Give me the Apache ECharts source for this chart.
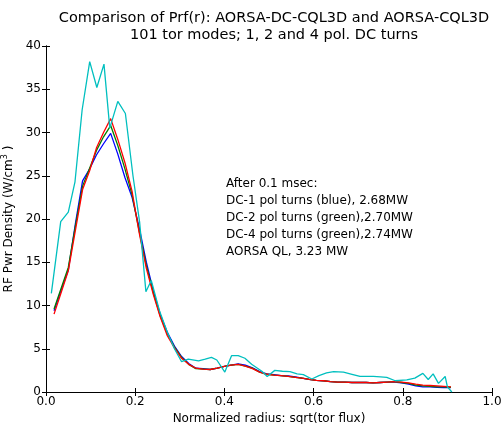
<!DOCTYPE html>
<html><head><meta charset="utf-8">
<script src="https://cdn.jsdelivr.net/npm/echarts@6/dist/echarts.min.js"></script>
<style>html,body{margin:0;padding:0;background:#fff}#c{width:502px;height:424px}</style>
</head><body><div id="c"></div>
<script>
var titleLines = ['Comparison of Prf(r): AORSA-DC-CQL3D and AORSA-CQL3D', '101 tor modes; 1, 2 and 4 pol. DC turns'];
var xLabel = 'Normalized radius: sqrt(tor flux)';
var xTicks = [0, 0.2, 0.4, 0.6, 0.8, 1.0];
var yTicks = [0, 5, 10, 15, 20, 25, 30, 35, 40];
var annotation = ['After 0.1 msec:', 'DC-1 pol turns (blue), 2.68MW', 'DC-2 pol turns (green),2.70MW', 'DC-4 pol turns (green),2.74MW', 'AORSA QL, 3.23 MW'];

var rhoDC = [0.018,0.034,0.050,0.066,0.082,0.098,0.113,0.129,0.145,0.161,0.177,0.193,0.209,0.225,0.241,0.256,0.272,0.288,0.304,0.320,0.336,0.352,0.368,0.384,0.400,0.415,0.431,0.447,0.463,0.479,0.495,0.511,0.527,0.543,0.559,0.574,0.590,0.606,0.622,0.638,0.654,0.670,0.686,0.702,0.718,0.733,0.749,0.765,0.781,0.797,0.813,0.829,0.845,0.861,0.877,0.892,0.908];
var prfDC1 = [9.4,11.8,14.1,19.5,24.4,25.8,27.4,28.7,29.9,27.5,24.8,22.5,19.0,15.0,11.6,9.0,6.9,5.3,4.1,3.3,2.75,2.7,2.6,2.75,2.95,3.1,3.25,3.1,2.8,2.35,2.1,2.0,1.9,1.85,1.75,1.6,1.45,1.35,1.3,1.2,1.15,1.15,1.1,1.1,1.1,1.05,1.1,1.15,1.15,1.05,0.9,0.7,0.6,0.6,0.55,0.5,0.5];
var prfDC2 = [9.6,12.0,14.4,19.2,23.8,25.9,27.9,29.5,30.8,28.5,25.8,22.8,18.6,14.6,11.4,8.8,6.7,5.2,4.0,3.2,2.7,2.65,2.6,2.75,2.95,3.1,3.2,3.0,2.75,2.3,2.05,1.95,1.9,1.8,1.7,1.6,1.45,1.35,1.3,1.2,1.15,1.15,1.1,1.1,1.1,1.05,1.1,1.15,1.2,1.1,1.0,0.8,0.7,0.65,0.6,0.6,0.55];
var prfDC4 = [9.0,11.5,14.0,18.7,23.4,25.6,28.2,30.0,31.6,29.2,26.5,23.2,18.4,14.3,11.2,8.7,6.5,5.1,3.9,3.2,2.75,2.65,2.6,2.75,2.95,3.1,3.2,3.0,2.7,2.3,2.05,1.95,1.9,1.8,1.7,1.6,1.45,1.35,1.3,1.2,1.15,1.15,1.1,1.1,1.1,1.05,1.1,1.15,1.2,1.15,1.05,0.9,0.8,0.75,0.7,0.65,0.6];
var rhoQL = [0.012,0.033,0.050,0.065,0.081,0.098,0.114,0.130,0.143,0.161,0.178,0.195,0.210,0.224,0.236,0.255,0.272,0.288,0.304,0.319,0.342,0.357,0.371,0.383,0.401,0.416,0.431,0.446,0.461,0.484,0.496,0.513,0.530,0.547,0.563,0.577,0.596,0.612,0.629,0.645,0.667,0.686,0.704,0.734,0.750,0.764,0.783,0.809,0.827,0.845,0.857,0.868,0.880,0.895,0.900,0.910];
var prfQL = [11.4,19.7,20.8,24.3,32.6,38.2,35.2,37.9,30.5,33.6,32.2,25.0,19.6,11.6,12.9,9.3,6.9,5.0,3.5,3.8,3.6,3.8,4.0,3.7,2.3,4.2,4.2,3.9,3.2,2.4,1.8,2.5,2.4,2.35,2.1,2.0,1.5,1.9,2.2,2.35,2.3,2.05,1.8,1.8,1.75,1.7,1.3,1.4,1.6,2.15,1.45,2.1,1.0,1.8,0.6,0.0];

function pairs(xs, ys){ return xs.map(function(x,i){ return [x, ys[i]]; }); }
function line(name, xs, ys, color, z){
  return {name:name, type:'line', data:pairs(xs,ys), symbol:'none', z:z,
    lineStyle:{color:color, width:1.3}, itemStyle:{color:color}, animation:false};
}
var FONT = 'DejaVu Sans';
var chart = echarts.init(document.getElementById('c'), null, {renderer:'canvas'});
var axisCommon = {
  axisLine:{lineStyle:{color:'#000', width:1}},
  axisTick:{inside:true, length:4, lineStyle:{color:'#000'}},
  splitLine:{show:false}
};
chart.setOption({
  backgroundColor:'#fff',
  animation:false,
  title:{text:titleLines.join('\n'), left:269, textAlign:'center', top:5,
    textStyle:{fontFamily:FONT, fontSize:14.5, fontWeight:'normal', color:'#000', lineHeight:17}},
  grid:{left:46, right:10, top:46, bottom:32, containLabel:false, outerBoundsMode:'none'},
  xAxis:[
    Object.assign({type:'value', min:0, max:1, interval:0.2, position:'bottom',
      name:xLabel, nameLocation:'middle', nameGap:19,
      nameTextStyle:{fontFamily:FONT, fontSize:12, color:'#000'},
      axisLabel:{fontFamily:FONT, fontSize:12, color:'#000', margin:4,
        formatter:function(v){ return xTicks.indexOf(+v.toFixed(1))>=0 ? v.toFixed(1) : ''; }}}, axisCommon),
    Object.assign({type:'value', min:0, max:1, interval:0.2, position:'top', axisLabel:{show:false}}, axisCommon)
  ],
  yAxis:[
    Object.assign({type:'value', min:0, max:40, interval:5, position:'left',
      name:'RF Pwr Density (W/cm{sup|3} )', nameLocation:'middle', nameGap:29,
      nameTextStyle:{fontFamily:FONT, fontSize:12, color:'#000',
        rich:{sup:{fontFamily:FONT, fontSize:8, color:'#000', padding:[0,0,7,0]}}},
      axisLabel:{fontFamily:FONT, fontSize:12, color:'#000', margin:5,
        formatter:function(v){ return yTicks.indexOf(v)>=0 ? String(v) : ''; }}}, axisCommon),
    Object.assign({type:'value', min:0, max:40, interval:5, position:'right', axisLabel:{show:false}}, axisCommon)
  ],
  series:[
    line('DC-1', rhoDC, prfDC1, '#0000ff', 2),
    line('DC-2', rhoDC, prfDC2, '#008000', 3),
    line('DC-4', rhoDC, prfDC4, '#ff0000', 4),
    line('AORSA QL', rhoQL, prfQL, '#00bfbf', 5)
  ],
  graphic:[{type:'text', left:226, top:175, z:10,
    style:{text:annotation.join('\n'), font:'12px "DejaVu Sans"', fill:'#000', lineHeight:17}}]
});
</script></body></html>
